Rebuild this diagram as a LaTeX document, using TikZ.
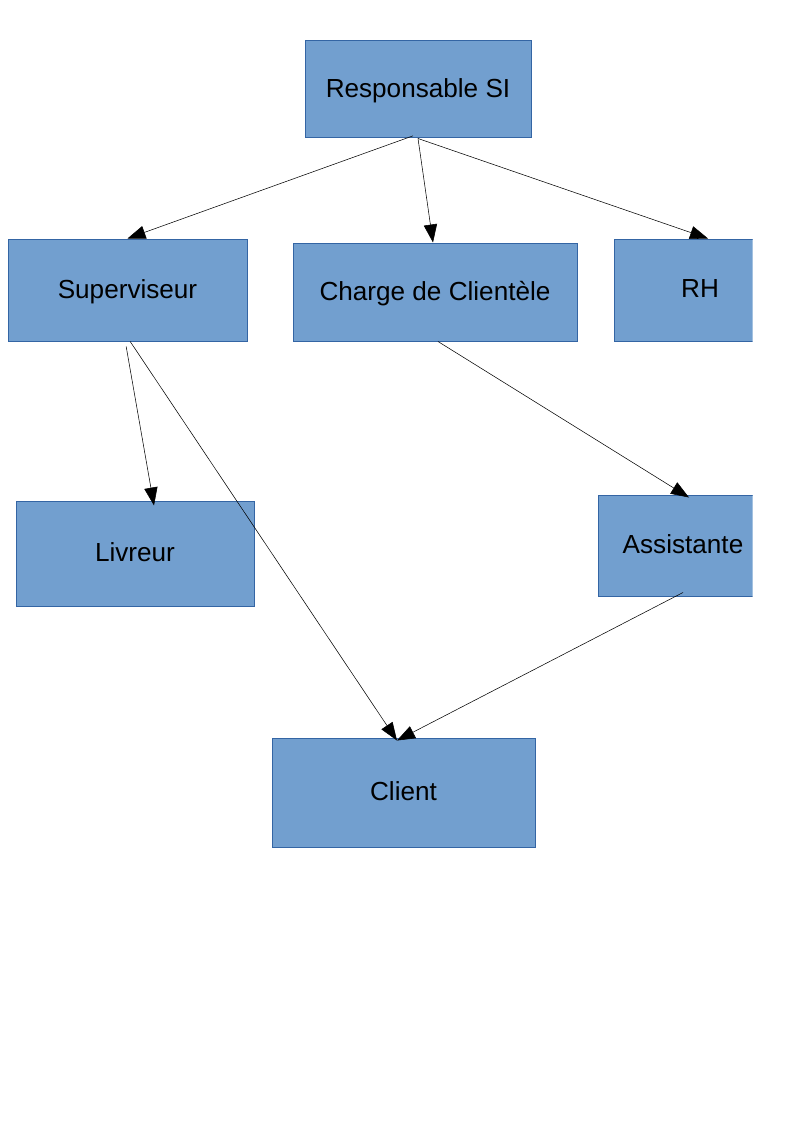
\documentclass[tikz,border=0pt]{standalone}
\usepackage{fontspec}
\setmainfont{Liberation Sans}
\usetikzlibrary{arrows.meta,calc}
\definecolor{boxfill}{HTML}{729FCF}
\definecolor{boxline}{HTML}{3465A4}
\begin{document}
\begin{tikzpicture}[x=0.75pt,y=-0.75pt,
  box/.style={draw=boxline,fill=boxfill,line width=0.75pt,inner sep=0pt,
    font=\fontsize{19.6}{23}\selectfont,text=black,text depth=1.5pt},
  arr/.style={draw=black,line width=0.4pt,-{Triangle[length=13.5pt,width=10pt]}}]
\useasboundingbox (0,0) rectangle (794,1123);
\node[box,minimum width=169.5pt,minimum height=72.75pt] (rsi) at (418,89.5) {Responsable SI};
\node[box,minimum width=179.25pt,minimum height=76.5pt] (sup) at (127.5,290) {Superviseur};
\node[box,minimum width=213pt,minimum height=73.5pt] (chg) at (435,292) {Charge de Clientèle};
\node[box,minimum width=178.5pt,minimum height=78.75pt] (liv) at (135,553.5) {Livreur};
\node[box,minimum width=197.25pt,minimum height=81.75pt] (cli) at (403.5,792.5) {Client};
\begin{scope}
  \clip (0,0) rectangle (752.5,1123);
  \node[box,minimum width=129pt,minimum height=76.5pt] (rh) at (700,290) {RH};
  \node[box,minimum width=127.5pt,minimum height=75.75pt] (ast) at (683,545.5) {Assistante};
\end{scope}
\draw[arr] ([xshift=-3.75pt,yshift=2pt]rsi.south) -- (sup.north);
\draw[arr] (rsi.south) -- ([xshift=-1.5pt]chg.north);
\draw[arr] (rsi.south) -- ([xshift=6pt]rh.north);
\draw[arr] ([xshift=-1pt,yshift=-3.75pt]sup.south) -- ([xshift=14.25pt,yshift=-3.75pt]liv.north);
\draw[arr] ([xshift=2pt]sup.south) -- ([xshift=-4.9pt,yshift=-2.25pt]cli.north);
\draw[arr] ([xshift=2.25pt]chg.south) -- ([xshift=4.5pt,yshift=-2.25pt]ast.north);
\draw[arr] ([yshift=3pt]ast.south) -- ([xshift=-4.9pt,yshift=-2.25pt]cli.north);
\end{tikzpicture}
\end{document}
